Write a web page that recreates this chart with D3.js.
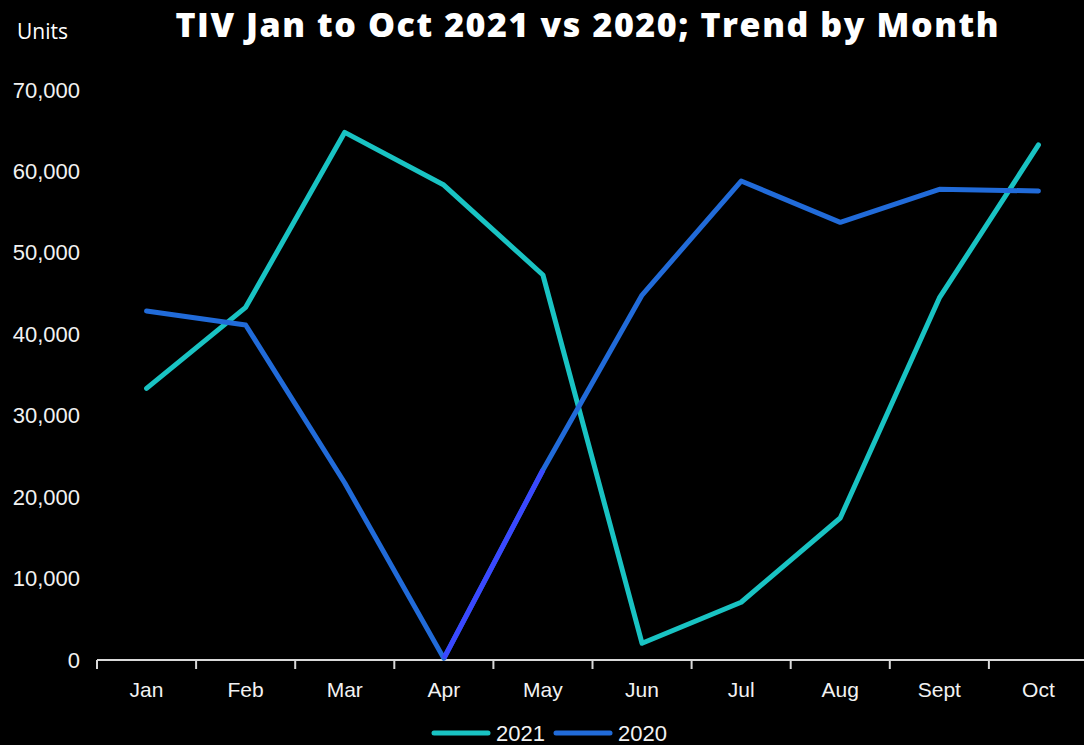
<!DOCTYPE html>
<html>
<head>
<meta charset="utf-8">
<script src="https://cdn.jsdelivr.net/npm/d3@7/dist/d3.min.js"></script>
<style>
  html, body { margin: 0; padding: 0; background: #000; }
  svg { display: block; }
</style>
</head>
<body>
<div id="chart"></div>
<script>
// Monthly total industry volume, Jan–Oct
const months = ["Jan", "Feb", "Mar", "Apr", "May", "Jun", "Jul", "Aug", "Sept", "Oct"];
const units2021 = [33360, 43310, 64800, 58330, 47280, 2050, 7090, 17440, 44460, 63250];
const units2020 = [42860, 41140, 21740, 200, 23330, 44820, 58820, 53750, 57800, 57600];
// segment of the 2020 series drawn in a brighter accent
const accent2020 = ["Apr", "May"];
const yTicks = [0, 10000, 20000, 30000, 40000, 50000, 60000, 70000];
const seriesNames = ["2021", "2020"];

const W = 1084, H = 745;
const colors = { "2021": "#19c3c3", "2020": "#216bd9", accent: "#3a48ff" };

const svg = d3.select("#chart").append("svg")
  .attr("width", W).attr("height", H)
  .style("background", "#000");

const x = d3.scaleBand().domain(months).range([97, 1088]);
const y = d3.scaleLinear().domain([0, 70000]).range([660, 90]);
const cx = m => x(m) + x.bandwidth() / 2;

// title and unit label
const titleText = "TIV Jan to Oct 2021 vs 2020; Trend by Month";
const title = svg.append("text")
  .attr("x", 587).attr("y", 37)
  .attr("text-anchor", "middle")
  .attr("fill", "#fff")
  .style("font-family", "'Open Sans', sans-serif")
  .style("font-weight", 800)
  .style("font-size", "34px")
  .text(titleText);
// widen the tracking so the title spans its full width
const tw = title.node().getComputedTextLength();
const spacing = Math.max(0, (823 - tw) / (titleText.length - 1));
title.style("letter-spacing", spacing.toFixed(2) + "px")
  .attr("x", 587 + spacing / 2);

svg.append("text")
  .attr("x", 17).attr("y", 39)
  .attr("fill", "#fff")
  .style("font-family", "'Open Sans', sans-serif")
  .style("font-size", "21px")
  .text("Units");

// y axis labels (no axis line)
const yAxis = d3.axisLeft(y).tickValues(yTicks).tickSize(0).tickPadding(0)
  .tickFormat(d3.format(","));
const gy = svg.append("g").attr("transform", "translate(80,0)").call(yAxis);
gy.select(".domain").remove();
gy.selectAll("text")
  .attr("fill", "#f2f2f2")
  .style("font-family", "'Liberation Sans', Arial, sans-serif")
  .style("font-size", "22px");

// x axis: baseline, boundary ticks, centred month labels
const gx = svg.append("g").attr("transform", "translate(0,660)");
gx.append("line")
  .attr("x1", x.range()[0]).attr("x2", W)
  .attr("stroke", "#d9d9d9").attr("stroke-width", 2);
gx.selectAll("line.tick")
  .data(months)
  .join("line")
  .attr("class", "tick")
  .attr("x1", d => x(d)).attr("x2", d => x(d))
  .attr("y1", 0).attr("y2", 9)
  .attr("stroke", "#d9d9d9").attr("stroke-width", 2);
gx.selectAll("text")
  .data(months)
  .join("text")
  .attr("x", d => cx(d)).attr("y", 37)
  .attr("text-anchor", "middle")
  .attr("fill", "#f2f2f2")
  .style("font-family", "'Liberation Sans', Arial, sans-serif")
  .style("font-size", "21px")
  .text(d => d);

// lines
const line = d3.line().x(d => cx(d.m)).y(d => y(d.v));
const toPts = vals => months.map((m, i) => ({ m, v: vals[i] }));

const pts2021 = toPts(units2021);
const pts2020 = toPts(units2020);

svg.append("path")
  .datum(pts2021)
  .attr("d", line)
  .attr("fill", "none")
  .attr("stroke", colors["2021"])
  .attr("stroke-width", 5)
  .attr("stroke-linejoin", "round")
  .attr("stroke-linecap", "round");

svg.append("path")
  .datum(pts2020)
  .attr("d", line)
  .attr("fill", "none")
  .attr("stroke", colors["2020"])
  .attr("stroke-width", 5)
  .attr("stroke-linejoin", "round")
  .attr("stroke-linecap", "round");

svg.append("path")
  .datum(pts2020.filter(p => accent2020.includes(p.m)))
  .attr("d", line)
  .attr("fill", "none")
  .attr("stroke", colors.accent)
  .attr("stroke-width", 5)
  .attr("stroke-linecap", "butt");

// legend
const legend = svg.append("g").attr("transform", "translate(0,733)");
const legendX = [434, 556];
seriesNames.forEach((s, i) => {
  const g = legend.append("g").attr("transform", `translate(${legendX[i]},0)`);
  g.append("line")
    .attr("x1", 0).attr("x2", 54)
    .attr("stroke", colors[s]).attr("stroke-width", 5)
    .attr("stroke-linecap", "round");
  g.append("text")
    .attr("x", 62).attr("y", 8)
    .attr("fill", "#f2f2f2")
    .style("font-family", "'Liberation Sans', Arial, sans-serif")
    .style("font-size", "22px")
    .text(s);
});
</script>
</body>
</html>
